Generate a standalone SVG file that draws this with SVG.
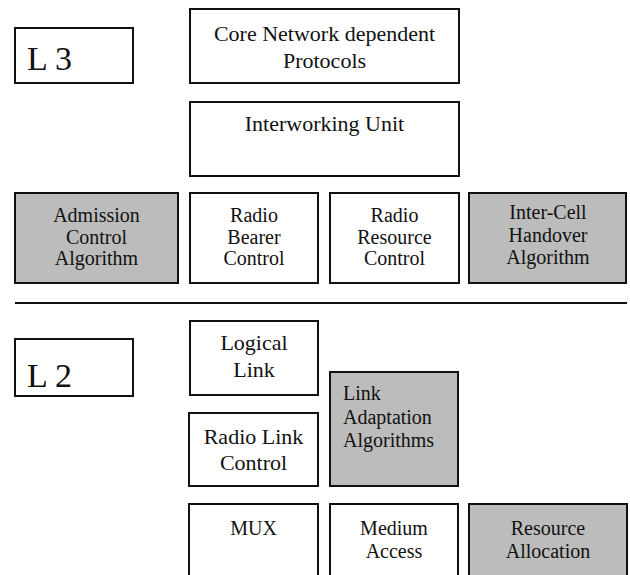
<svg xmlns="http://www.w3.org/2000/svg" width="630" height="575" viewBox="0 0 630 575">
<style>
.box{fill:#fff;stroke:#111;stroke-width:2}
.gray{fill:#bcbcbc;stroke:#111;stroke-width:2}
text{font-family:"Liberation Serif","Times New Roman",serif;fill:#111;text-anchor:middle}
.t22{font-size:22px}
.t20{font-size:20px}
.big{font-size:34px;text-anchor:start}
.left{text-anchor:start}
</style>
<rect width="630" height="575" fill="#fff"/>
<g id="l3"><rect class="box" x="15" y="28" width="118" height="55"/><text class="big" x="27" y="70">L 3</text></g>
<g id="core"><rect class="box" x="190" y="9" width="269" height="74"/><text class="t22" x="324.5" y="41">Core Network dependent</text><text class="t22" x="324.5" y="68">Protocols</text></g>
<g id="iwu"><rect class="box" x="190" y="102" width="269" height="74"/><text class="t22" x="324.5" y="131">Interworking Unit</text></g>
<g id="admission"><rect class="gray" x="15" y="193" width="163" height="90"/><text class="t20" x="96.5" y="222">Admission</text><text class="t20" x="96.5" y="243.5">Control</text><text class="t20" x="96.5" y="265">Algorithm</text></g>
<g id="rbc"><rect class="box" x="190" y="193" width="128" height="90"/><text class="t20" x="254" y="222">Radio</text><text class="t20" x="254" y="243.5">Bearer</text><text class="t20" x="254" y="265">Control</text></g>
<g id="rrc"><rect class="box" x="330" y="193" width="129" height="90"/><text class="t20" x="394.5" y="222">Radio</text><text class="t20" x="394.5" y="243.5">Resource</text><text class="t20" x="394.5" y="265">Control</text></g>
<g id="handover"><rect class="gray" x="469" y="193" width="157" height="90"/><text class="t20" x="548" y="219">Inter-Cell</text><text class="t20" x="548" y="242">Handover</text><text class="t20" x="548" y="264">Algorithm</text></g>
<g id="connectors"><line x1="15" y1="303" x2="627" y2="303" stroke="#111" stroke-width="2"/></g>
<g id="l2"><rect class="box" x="15" y="339" width="118" height="57"/><text class="big" x="27" y="387">L 2</text></g>
<g id="logical"><rect class="box" x="190" y="321" width="128" height="74"/><text class="t22" x="254" y="350">Logical</text><text class="t22" x="254" y="377">Link</text></g>
<g id="rlc"><rect class="box" x="189" y="413" width="129" height="73"/><text class="t22" x="253.5" y="444">Radio Link</text><text class="t22" x="253.5" y="470">Control</text></g>
<g id="linkadapt"><rect class="gray" x="330" y="372" width="128" height="114"/><text class="t20 left" x="343" y="400">Link</text><text class="t20 left" x="343" y="423.5">Adaptation</text><text class="t20 left" x="343" y="447">Algorithms</text></g>
<g id="mux"><rect class="box" x="189" y="504" width="129" height="80"/><text class="t20" x="253.5" y="535">MUX</text></g>
<g id="medium"><rect class="box" x="330" y="504" width="128" height="80"/><text class="t20" x="394" y="535">Medium</text><text class="t20" x="394" y="558">Access</text></g>
<g id="resalloc"><rect class="gray" x="469" y="504" width="158" height="80"/><text class="t20" x="548" y="535">Resource</text><text class="t20" x="548" y="558">Allocation</text></g>
</svg>
